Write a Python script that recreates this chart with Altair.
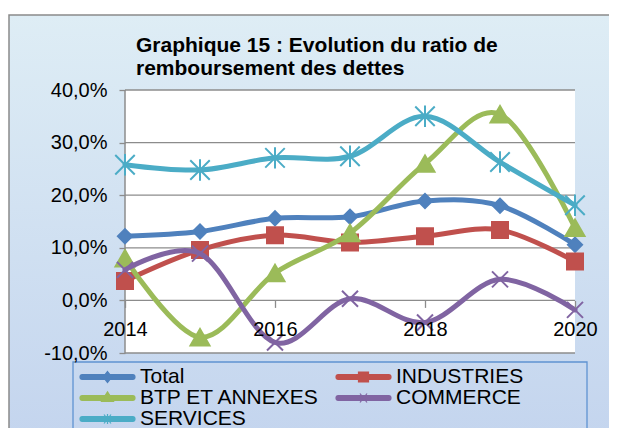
import altair as alt
import pandas as pd

# ---- data ----
years = [2014, 2015, 2016, 2017, 2018, 2019, 2020]
series_names = ["Total", "INDUSTRIES", "BTP ET ANNEXES", "COMMERCE", "SERVICES"]
total = [12.2, 13.1, 15.6, 15.9, 18.9, 18.0, 10.6]
industries = [3.7, 9.6, 12.4, 11.0, 12.2, 13.4, 7.4]
btp = [8.0, -7.0, 5.2, 12.8, 26.0, 35.4, 13.8]
commerce = [5.8, 8.9, -8.0, 0.3, -4.2, 4.0, -1.8]
services = [25.8, 24.8, 27.1, 27.4, 35.0, 26.3, 18.1]
y_ticks = [-10, 0, 10, 20, 30, 40]
x_labels = [2014, 2016, 2018, 2020]
title_lines = ["Graphique 15 : Evolution du ratio de", "remboursement des dettes"]

# ---- styles ----
colors = ["#4F81BD", "#C0504D", "#9BBB59", "#8064A2", "#4BACC6"]
XPATH = "M-1,-1L1,1M-1,1L1,-1"
STAR = "M-1,-1L1,1M-1,1L1,-1M0,-1.1L0,1.1"
marker_shapes = ["diamond", "square", "triangle-up", XPATH, STAR]
marker_sizes = [200, 256, 361, 256, 380]
marker_strokes = [2, 2, 2, 2, 2]

bar = "M-0.86,-0.24L4.16,-0.24A0.24,0.24 0 0 1 4.16,0.24L-0.86,0.24A0.24,0.24 0 0 1 -0.86,-0.24Z"
legend_paths = [
    bar + "M1.65,-0.55L2.08,0L1.65,0.55L1.22,0Z",
    bar + "M1.15,-0.5L2.15,-0.5L2.15,0.5L1.15,0.5Z",
    bar + "M1.65,-0.62L2.25,0.35L1.05,0.35Z",
    bar + "M1.3,-0.45L2.0,0.45M1.3,0.45L2.0,-0.45",
    bar + "M1.3,-0.45L2.0,0.45M1.3,0.45L2.0,-0.45M1.65,-0.5L1.65,0.5",
]

W, H = 450, 263
YMIN, YMAX = -10, 40
FONT = "Liberation Sans"
GRID = "#8c8c8c"

values_by_series = [total, industries, btp, commerce, services]
rows = []
for name, vals in zip(series_names, values_by_series):
    for yr, v in zip(years, vals):
        rows.append({"series": name, "year": yr, "value": v})
df = pd.DataFrame(rows)

x_axis = alt.Axis(values=x_labels, format="d", title=None, grid=False, domain=False,
                  ticks=True, tickSize=7, tickColor=GRID, tickWidth=1.3,
                  labelFont=FONT, labelFontSize=20, labelColor="black", labelPadding=12,
                  labelFlush=False, labelOverlap=False,
                  offset=-H * (0 - YMIN) / (YMAX - YMIN), zindex=1)
y_axis = alt.Axis(values=y_ticks, title=None, grid=False, domain=False,
                  ticks=True, tickSize=6, tickColor=GRID, tickWidth=1.3,
                  labelFont=FONT, labelFontSize=20, labelColor="black", labelPadding=12,
                  labelExpr="replace(replace(format(datum.value, '.1f'), '.', ','), '\u2212', '-') + '%'",
                  zindex=1)

X = alt.X("year:Q", scale=alt.Scale(domain=[2014, 2020], nice=False, zero=False), axis=x_axis)
Y = alt.Y("value:Q", scale=alt.Scale(domain=[YMIN, YMAX], nice=False, zero=False), axis=y_axis)

one = pd.DataFrame({"k": [0]})

gradient = alt.LinearGradient(
    gradient="linear",
    stops=[alt.GradientStop(color="#deedf5", offset=0),
           alt.GradientStop(color="#c3d4ee", offset=1)],
    x1=0, x2=0, y1=0, y2=1)

bg = alt.Chart(one).mark_rect(fill=gradient, stroke="#8a8a8a", strokeWidth=1.5).encode(
    x=alt.value(-116), x2=alt.value(520), y=alt.value(-75), y2=alt.value(360))
plot_bg = alt.Chart(one).mark_rect(fill="white").encode(
    x=alt.value(0), x2=alt.value(W), y=alt.value(0), y2=alt.value(H))
legend_box = alt.Chart(one).mark_rect(fillOpacity=0, stroke="#5f93d1", strokeWidth=1.3).encode(
    x=alt.value(-52), x2=alt.value(462), y=alt.value(272), y2=alt.value(400))

grid = alt.Chart(pd.DataFrame({"value": y_ticks})).mark_rule(color=GRID, strokeWidth=1.3).encode(y=Y)
ydom = alt.Chart(pd.DataFrame({"year": [2014]})).mark_rule(color=GRID, strokeWidth=1.5).encode(x=X)

layers = [bg, plot_bg, legend_box, grid, ydom]
for name, col, shp, sz, sw in zip(series_names, colors, marker_shapes, marker_sizes, marker_strokes):
    base = alt.Chart(df).transform_filter(alt.datum.series == name)
    line = base.mark_line(interpolate="cardinal", color=col, strokeWidth=5,
                          strokeCap="round", strokeJoin="round").encode(x=X, y=Y)
    pts = base.mark_point(shape=shp, size=sz, filled=True, fill=col, stroke=col,
                          strokeWidth=sw, opacity=1).encode(x=X, y=Y)
    layers += [line, pts]

leg = alt.Legend(orient="none", legendX=-45, legendY=276, columns=2, columnPadding=13,
                 direction="horizontal",
                 rowPadding=0, symbolSize=400, symbolStrokeWidth=1.2, symbolOpacity=1,
                 labelOffset=38, labelFont=FONT, labelFontSize=21, labelColor="black",
                 labelLimit=0, padding=0, title=None)
dummy = alt.Chart(pd.DataFrame({"series": series_names})).mark_point(filled=True, opacity=0).encode(
    fill=alt.Fill("series:N", scale=alt.Scale(domain=series_names, range=colors), legend=leg),
    stroke=alt.Stroke("series:N", scale=alt.Scale(domain=series_names, range=colors), legend=leg),
    shape=alt.Shape("series:N", scale=alt.Scale(domain=series_names, range=legend_paths), legend=leg),
)
layers.append(dummy)

chart = alt.layer(*layers).properties(
    width=W, height=H,
    title=alt.TitleParams(text=title_lines, anchor="start", frame="group", dx=11, offset=-65,
                          font=FONT, fontSize=21, fontWeight="bold", color="black", lineHeight=23),
    autosize=alt.AutoSizeParams(type="none"),
    padding={"left": 117, "top": 82, "right": 34, "bottom": 75},
    background="white",
).configure_view(stroke=None)

chart.save("out.html", embed_options={"renderer": "svg", "actions": False})
